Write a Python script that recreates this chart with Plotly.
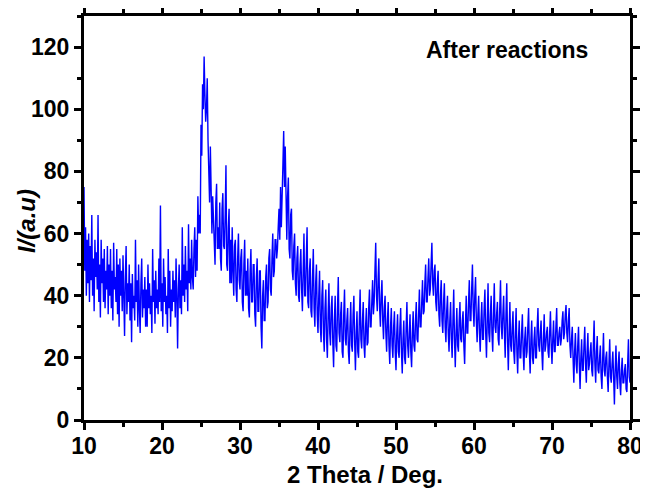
import plotly.graph_objects as go

# Intensities, one row per 2 degrees of 2-theta
# (20 readings per row, 0.1 degree apart), starting at 10 degrees.
step = 0.1
first_angle = 10.0
rows = [
    [75, 48, 62, 40, 58, 44, 60, 38, 56, 45, 66, 40, 52, 35, 58, 46, 54, 42, 66, 38],
    [50, 33, 58, 44, 52, 38, 55, 36, 48, 42, 56, 34, 50, 40, 55, 36, 48, 32, 57, 42],
    [46, 38, 55, 34, 50, 30, 52, 40, 48, 35, 53, 38, 27, 46, 56, 34, 44, 38, 50, 32],
    [44, 25, 47, 36, 40, 32, 58, 38, 45, 30, 50, 36, 28, 44, 52, 33, 42, 36, 46, 30],
    [42, 30, 50, 36, 44, 34, 40, 28, 55, 38, 45, 31, 48, 36, 42, 34, 52, 38, 69, 35],
    [44, 30, 52, 38, 46, 34, 40, 28, 55, 36, 48, 30, 42, 35, 48, 38, 45, 33, 52, 40],
    [23, 42, 50, 36, 45, 34, 62, 40, 50, 38, 56, 42, 48, 35, 63, 44, 52, 42, 58, 46],
    [42, 55, 62, 46, 58, 48, 72, 60, 66, 60, 95, 85, 108, 100, 117, 105, 96, 100, 110, 90],
    [80, 70, 88, 62, 60, 72, 66, 58, 50, 70, 76, 55, 62, 55, 70, 52, 48, 68, 73, 56],
    [55, 66, 82, 50, 48, 62, 68, 44, 58, 44, 62, 48, 40, 56, 58, 42, 38, 52, 60, 45],
    [42, 52, 55, 38, 35, 50, 58, 40, 48, 40, 52, 36, 33, 48, 55, 38, 38, 50, 50, 34],
    [30, 46, 52, 35, 35, 48, 48, 30, 23, 40, 45, 32, 32, 46, 50, 36, 38, 52, 55, 42],
    [40, 52, 60, 46, 48, 58, 58, 52, 55, 62, 68, 58, 75, 62, 78, 82, 93, 75, 88, 65],
    [58, 72, 78, 55, 52, 66, 68, 48, 45, 56, 60, 44, 40, 52, 56, 40, 38, 50, 55, 42],
    [35, 48, 60, 40, 40, 52, 62, 38, 36, 48, 52, 35, 33, 46, 55, 36, 30, 44, 50, 34],
    [28, 40, 48, 30, 25, 40, 45, 28, 22, 36, 42, 26, 20, 34, 44, 28, 24, 36, 40, 25],
    [17, 32, 40, 24, 22, 36, 46, 28, 25, 34, 38, 22, 20, 34, 42, 26, 24, 32, 36, 22],
    [18, 30, 38, 24, 22, 34, 40, 25, 16, 28, 35, 22, 20, 32, 42, 26, 23, 32, 38, 24],
    [20, 30, 36, 24, 25, 36, 42, 30, 30, 38, 45, 34, 38, 48, 57, 40, 35, 45, 52, 36],
    [30, 40, 45, 32, 26, 36, 40, 28, 22, 32, 38, 24, 18, 30, 36, 24, 20, 30, 35, 22],
    [16, 28, 34, 22, 20, 30, 36, 22, 15, 26, 32, 20, 18, 30, 38, 24, 20, 28, 34, 22],
    [17, 28, 35, 24, 22, 32, 38, 26, 25, 34, 42, 30, 30, 38, 45, 34, 35, 44, 50, 38],
    [38, 46, 52, 40, 42, 50, 57, 44, 40, 48, 50, 38, 35, 44, 48, 34, 30, 40, 45, 32],
    [28, 38, 44, 30, 25, 35, 40, 28, 22, 32, 38, 26, 20, 32, 42, 26, 17, 28, 36, 24],
    [22, 32, 38, 26, 25, 32, 35, 24, 18, 30, 40, 28, 28, 38, 45, 32, 32, 42, 50, 36],
    [30, 40, 46, 32, 25, 34, 40, 28, 22, 32, 38, 26, 26, 36, 42, 28, 20, 32, 44, 28],
    [25, 34, 40, 28, 22, 34, 44, 30, 28, 34, 38, 26, 24, 36, 45, 30, 26, 34, 40, 28],
    [20, 34, 44, 26, 16, 28, 38, 24, 22, 30, 35, 22, 18, 28, 36, 22, 15, 26, 32, 20],
    [20, 28, 34, 22, 16, 26, 30, 20, 22, 30, 36, 22, 15, 26, 32, 20, 18, 26, 30, 20],
    [20, 30, 36, 24, 22, 28, 32, 22, 16, 26, 34, 22, 24, 28, 30, 22, 20, 28, 35, 24],
    [18, 26, 32, 22, 22, 30, 36, 24, 24, 28, 30, 24, 26, 32, 35, 26, 28, 34, 37, 28],
    [25, 32, 36, 24, 20, 26, 30, 20, 12, 22, 28, 18, 15, 24, 30, 18, 10, 20, 26, 16],
    [16, 24, 30, 18, 12, 22, 28, 16, 18, 22, 25, 16, 14, 24, 32, 18, 12, 22, 27, 16],
    [15, 20, 24, 14, 10, 20, 28, 16, 14, 20, 22, 14, 9, 18, 26, 14, 12, 18, 22, 14],
    [5, 16, 24, 14, 10, 18, 22, 12, 8, 16, 20, 12, 12, 16, 18, 10, 9, 18, 26, 14],
    [12],
]

x_ticks = [10, 20, 30, 40, 50, 60, 70, 80]
y_ticks = [0, 20, 40, 60, 80, 100, 120]

two_theta = []
intensity = []
for i, row in enumerate(rows):
    start = first_angle + 2.0 * i
    for j, v in enumerate(row):
        two_theta.append(round(start + j * step, 2))
        intensity.append(v)

FONT = "Liberation Sans"

fig = go.Figure()
fig.add_trace(go.Scatter(
    x=two_theta, y=intensity, mode="lines",
    line=dict(color="#0000FF", width=1.4),
    showlegend=False,
))

axis_common = dict(
    showline=True, linecolor="black", linewidth=3, mirror="ticks",
    ticks="outside", ticklen=7, tickwidth=3, tickcolor="black",
    showgrid=False, zeroline=False, automargin=False,
    tickfont=dict(family=FONT, size=23, color="black", weight="bold"),
)

fig.update_xaxes(
    range=[10, 80], tickvals=x_ticks, ticklabelstandoff=-4,
    minor=dict(ticks="outside", ticklen=4, tickwidth=3, tickcolor="black", dtick=5, tick0=5),
    **axis_common,
)
fig.update_yaxes(
    range=[0, 130], tickvals=y_ticks,
    minor=dict(ticks="outside", ticklen=4, tickwidth=3, tickcolor="black", dtick=10, tick0=10),
    **axis_common,
)

fig.add_annotation(
    text="2 Theta / Deg.", xref="paper", yref="paper", x=0.515, y=-0.134,
    xanchor="center", yanchor="middle", showarrow=False,
    font=dict(family=FONT, size=24, color="black", weight="bold"),
)
fig.add_annotation(
    text="<i>I/(a.u)</i>", xref="paper", yref="paper", x=-0.104, y=0.493,
    xanchor="center", yanchor="middle", showarrow=False, textangle=-90,
    font=dict(family=FONT, size=24, color="black", weight="bold"),
)
fig.add_annotation(
    text="After reactions", xref="paper", yref="paper", x=0.775, y=0.916,
    xanchor="center", yanchor="middle", showarrow=False,
    font=dict(family=FONT, size=23, color="black", weight="bold"),
)

# the page adds an 8px body margin, so the figure is 8px smaller each way
fig.update_layout(
    width=640, height=483,
    margin=dict(l=76, r=18, t=8, b=71),
    paper_bgcolor="white", plot_bgcolor="white",
)

fig.write_html("out.html")
